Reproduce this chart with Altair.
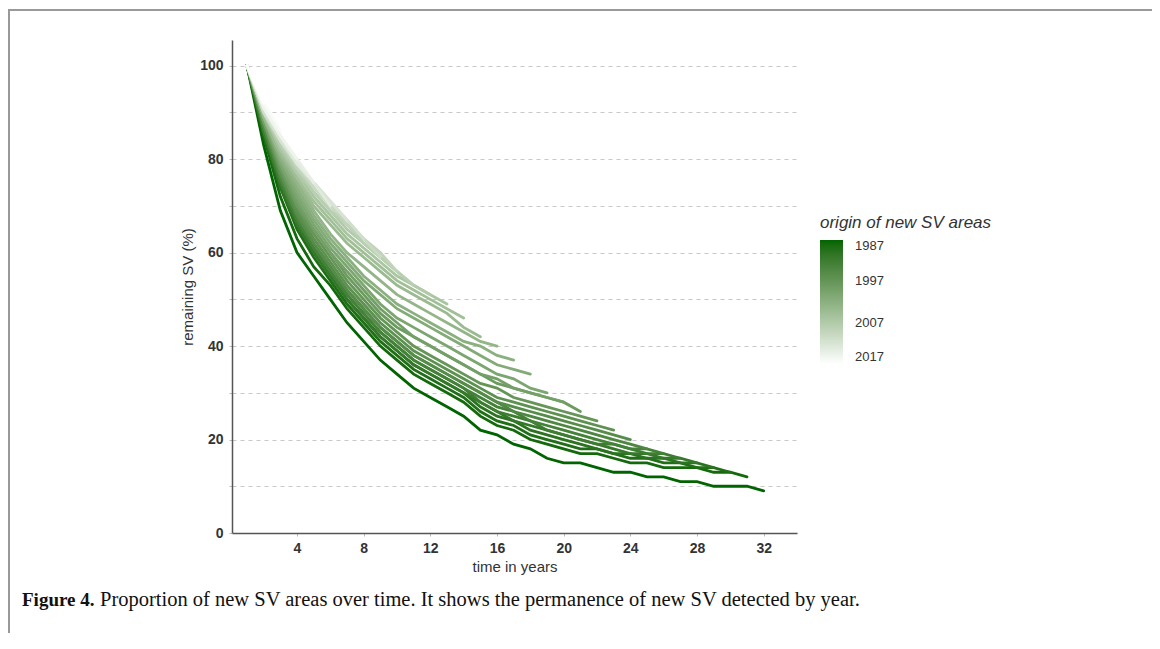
import altair as alt
import pandas as pd

years = list(range(1987, 2018))

v1987 = [100, 83, 69, 60, 55, 50, 45, 41, 37, 34, 31, 29, 27, 25, 22, 21, 19, 18, 16, 15, 15, 14, 13, 13, 12, 12, 11, 11, 10, 10, 10, 9]
v1988 = [100, 85, 72, 63, 57, 53, 48, 44, 40, 37, 34, 32, 30, 28, 25, 23, 22, 20, 19, 18, 17, 17, 16, 15, 15, 14, 14, 14, 13, 13, 12]
v1989 = [100, 85, 74, 65, 59, 54, 49, 45, 41, 38, 35, 33, 31, 29, 26, 24, 23, 21, 20, 19, 18, 18, 17, 16, 16, 15, 15, 14, 14, 13]
v1990 = [100, 86, 74, 66, 60, 55, 50, 46, 42, 39, 36, 34, 32, 30, 27, 25, 24, 22, 21, 20, 19, 18, 17, 17, 16, 16, 15, 15, 14]
v1991 = [100, 86, 75, 66, 60, 55, 50, 46, 42, 39, 36, 34, 32, 30, 28, 26, 24, 23, 22, 21, 20, 19, 18, 17, 17, 16, 16, 15]
v1992 = [100, 86, 75, 67, 61, 56, 51, 47, 43, 40, 37, 35, 33, 31, 28, 26, 25, 24, 22, 21, 20, 19, 19, 18, 17, 17, 16]
v1993 = [100, 87, 76, 67, 61, 56, 51, 47, 43, 40, 37, 35, 33, 31, 29, 27, 26, 24, 23, 22, 21, 20, 19, 18, 18, 17]
v1994 = [100, 87, 76, 68, 62, 57, 52, 48, 44, 41, 38, 36, 34, 32, 30, 28, 26, 25, 24, 23, 22, 21, 20, 19, 18]
v1995 = [100, 87, 77, 68, 62, 57, 52, 48, 44, 41, 38, 36, 34, 32, 30, 28, 27, 26, 25, 24, 23, 22, 21, 20]
v1996 = [100, 88, 77, 69, 63, 58, 53, 49, 45, 42, 39, 37, 35, 33, 31, 29, 28, 27, 26, 25, 24, 23, 22]
v1997 = [100, 88, 78, 70, 64, 59, 54, 50, 46, 43, 40, 38, 36, 34, 32, 31, 29, 28, 27, 26, 25, 24]
v1998 = [100, 88, 78, 70, 65, 60, 55, 51, 47, 44, 42, 40, 38, 36, 34, 32, 31, 30, 29, 28, 26]
v1999 = [100, 88, 79, 71, 65, 60, 56, 52, 48, 45, 42, 40, 38, 36, 34, 33, 31, 30, 29, 28]
v2000 = [100, 89, 79, 72, 66, 61, 57, 53, 49, 46, 44, 42, 40, 38, 36, 34, 33, 31, 30]
v2001 = [100, 89, 80, 73, 67, 62, 58, 54, 51, 48, 46, 44, 42, 40, 38, 36, 35, 34]
v2002 = [100, 89, 80, 74, 68, 63, 59, 55, 52, 49, 47, 45, 43, 41, 40, 38, 37]
v2003 = [100, 89, 81, 75, 69, 64, 60, 57, 54, 51, 49, 47, 45, 43, 41, 40]
v2004 = [100, 89, 81, 76, 70, 66, 62, 59, 56, 53, 51, 49, 47, 44, 42]
v2005 = [100, 90, 82, 76, 71, 67, 63, 60, 57, 54, 52, 50, 48, 46]
v2006 = [100, 90, 82, 77, 72, 68, 64, 61, 58, 55, 53, 51, 49]
v2007 = [100, 90, 83, 77, 73, 69, 65, 62, 59, 56, 53, 51]
v2008 = [100, 90, 83, 78, 73, 69, 66, 62, 59, 56, 53]
v2009 = [100, 90, 84, 78, 74, 70, 66, 63, 60, 56]
v2010 = [100, 90, 84, 79, 74, 70, 67, 63, 59]
v2011 = [100, 90, 84, 79, 75, 71, 67, 63]
v2012 = [100, 91, 84, 79, 75, 71, 67]
v2013 = [100, 91, 85, 79, 75, 70]
v2014 = [100, 91, 85, 80, 75]
v2015 = [100, 91, 85, 80]
v2016 = [100, 92, 86]
v2017 = [100, 92]

series = [v1987, v1988, v1989, v1990, v1991, v1992, v1993, v1994, v1995, v1996,
          v1997, v1998, v1999, v2000, v2001, v2002, v2003, v2004, v2005, v2006,
          v2007, v2008, v2009, v2010, v2011, v2012, v2013, v2014, v2015, v2016, v2017]

x_ticks = [4, 8, 12, 16, 20, 24, 28, 32]
y_grid = [0, 10, 20, 30, 40, 50, 60, 70, 80, 90, 100]
legend_years = [1987, 1997, 2007, 2017]

caption_bold = "Figure 4."
caption_rest = "Proportion of new SV areas over time. It shows the permanence of new SV detected by year."

rows = []
for yr, vals in zip(years, series):
    for i, v in enumerate(vals):
        rows.append({"year": yr, "t": i + 1, "value": v})
df = pd.DataFrame(rows)

W, H = 565, 493

lines = alt.Chart(df).transform_calculate(
    negyear="-datum.year"
).mark_line(strokeWidth=2.8, strokeCap="round").encode(
    x=alt.X("t:Q", scale=alt.Scale(domain=[0.1, 34], nice=False, zero=False),
            axis=alt.Axis(values=x_ticks, title="time in years", grid=False,
                          labelFontWeight="bold", labelFontSize=14, labelColor="#333",
                          titleFontSize=15, titleFontWeight="normal", titleColor="#333",
                          tickColor="#bbb", tickSize=3, labelPadding=5, titlePadding=4,
                          domainColor="#555", domainWidth=1.5)),
    y=alt.Y("value:Q", scale=alt.Scale(domain=[0, 105.5], nice=False),
            axis=alt.Axis(values=y_grid, title="remaining SV (%)", grid=True,
                          gridDash=[4, 4], gridColor="#c8c8c8", gridWidth=1,
                          labelExpr="datum.value % 20 == 0 ? datum.label : ''",
                          labelFontWeight="bold", labelFontSize=14, labelColor="#333",
                          titleFontSize=15, titleFontWeight="normal", titleColor="#333",
                          tickColor="#bbb", tickSize=3, labelPadding=6, titlePadding=4,
                          domainColor="#555", domainWidth=1.5)),
    color=alt.Color("negyear:Q",
                    scale=alt.Scale(domain=[-2017, -1987], range=["#ffffff", "#006400"], interpolate="lab"),
                    legend=alt.Legend(title="origin of new SV areas", orient="none",
                                      legendX=588, legendY=175, direction="vertical",
                                      values=[-y for y in legend_years],
                                      labelExpr="format(-datum.value, 'd')",
                                      gradientLength=124, gradientThickness=23,
                                      titleFontSize=17, titleFontStyle="italic",
                                      titleFontWeight="normal", titleColor="#333",
                                      titlePadding=8, labelFontSize=13, labelColor="#333",
                                      labelOffset=12, gradientStrokeWidth=0)),
    detail="year:N",
)

cap_df = pd.DataFrame({"a": [caption_bold], "b": [caption_rest]})
cap1 = alt.Chart(cap_df).mark_text(font="Liberation Serif", fontSize=19, fontWeight="bold",
                                   align="left", baseline="alphabetic", color="#111").encode(
    text="a:N", x=alt.value(-210), y=alt.value(566))
cap2 = alt.Chart(cap_df).mark_text(font="Liberation Serif", fontSize=20.5,
                                   align="left", baseline="alphabetic", color="#111").encode(
    text="b:N", x=alt.value(-132), y=alt.value(566))

frame_top = alt.Chart(cap_df).mark_rule(color="#999", strokeWidth=2).encode(
    x=alt.value(-224), x2=alt.value(920), y=alt.value(-30))
frame_left = alt.Chart(cap_df).mark_rule(color="#999", strokeWidth=2).encode(
    x=alt.value(-223), y=alt.value(-31), y2=alt.value(593))

chart = alt.layer(lines, cap1, cap2, frame_top, frame_left).properties(
    width=W, height=H,
    autosize=alt.AutoSizeParams(type="none"),
    padding={"left": 224, "top": 32, "right": 355, "bottom": 100},
).configure(font="Liberation Sans").configure_view(stroke=None)

chart.save("out.html", embed_options={"renderer": "svg", "actions": False})
